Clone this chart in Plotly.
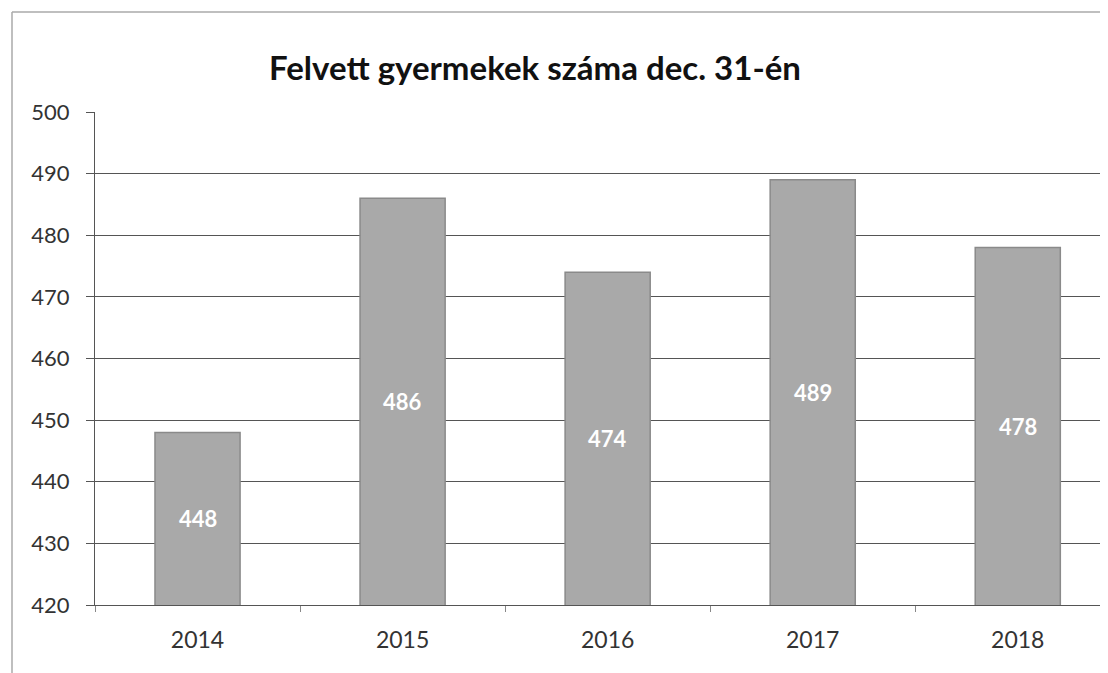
import plotly.graph_objects as go

years = ["2014", "2015", "2016", "2017", "2018"]
values = [448, 486, 474, 489, 478]
title_text = "Felvett gyermekek száma dec. 31-én"
y_min, y_max = 420, 500

# page has an 8px body margin; work in figure pixels = page pixels - 8
OFF = 8
W, H = 1108 - OFF, 673 - OFF
L, T = 95 - OFF, 112 - OFF
B = H - (605 - OFF)
R = 0
pw = W - L - R
ph = H - T - B

FONT = "Lato, Open Sans, sans-serif"

fig = go.Figure()
fig.add_trace(go.Bar(
    x=years, y=values, width=0.415,
    marker=dict(color="#a9a9a9", line=dict(color="#8a8a8a", width=1.5)),
))

for i, v in enumerate(values):
    fig.add_annotation(x=i, y=(y_min + v) / 2, xref="x", yref="y", text=str(v), showarrow=False,
                       font=dict(family=FONT, size=22, color="white", weight="bold"))

def px_x(p):
    return (p - OFF - L) / pw

def px_y(p):
    return (H - B - (p - OFF)) / ph

fig.update_layout(
    width=W, height=H,
    margin=dict(l=L, r=R, t=T, b=B),
    paper_bgcolor="white", plot_bgcolor="white",
    showlegend=False,
    title=dict(text=title_text, x=(535 - OFF) / W, xref="container", xanchor="center",
               y=1 - (68 - OFF) / H, yref="container", yanchor="middle",
               font=dict(family=FONT, size=33, color="#111", weight="bold")),
    xaxis=dict(type="category", range=[-0.5, 4.44], showline=True, linecolor="#555", linewidth=1,
               ticks="outside", tickson="boundaries", ticklen=6, tickcolor="#888",
               ticklabelstandoff=14,
               tickfont=dict(family=FONT, size=23, color="#333"),
               showgrid=False),
    yaxis=dict(range=[y_min, y_max], dtick=10, showline=True, linecolor="#555", linewidth=1,
               ticks="outside", ticklen=8, tickcolor="#555", ticklabelstandoff=12,
               showgrid=True, gridcolor="#555", gridwidth=1, zeroline=False,
               tickfont=dict(family=FONT, size=22, color="#333")),
    shapes=[
        dict(type="line", xref="paper", yref="paper", x0=px_x(12), x1=px_x(1108), y0=px_y(12), y1=px_y(12),
             line=dict(color="#aaa", width=1.5)),
        dict(type="line", xref="paper", yref="paper", x0=px_x(12), x1=px_x(12), y0=px_y(12), y1=px_y(673),
             line=dict(color="#aaa", width=1.5)),
    ],
)

fig.write_html("out.html")
